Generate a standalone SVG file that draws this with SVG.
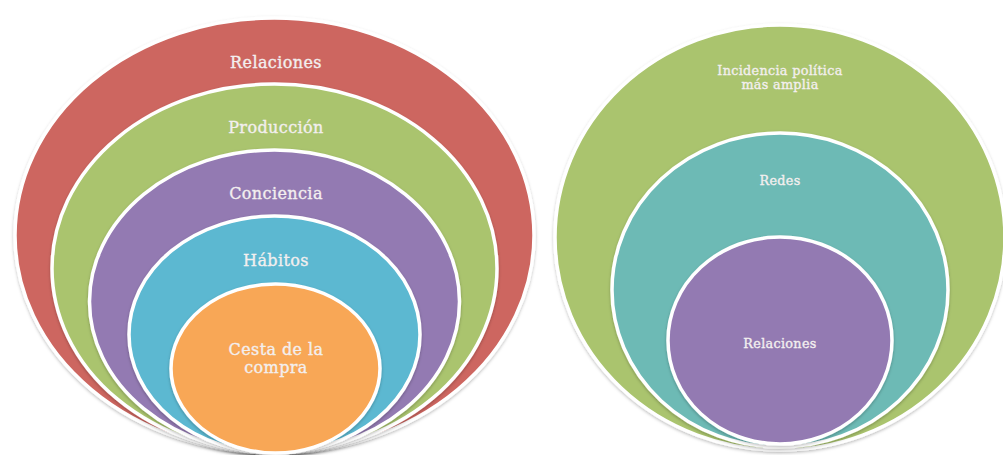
<svg xmlns="http://www.w3.org/2000/svg" width="1003" height="455" viewBox="0 0 1003 455">
<defs>
<filter id="sh" x="-10%" y="-10%" width="120%" height="120%">
<feDropShadow dx="0" dy="1.5" stdDeviation="1.5" flood-color="#000" flood-opacity="0.25"/>
</filter>
<style>
.ring{stroke:#fff;stroke-width:3.5;filter:url(#sh)}
.lbl{font-family:"DejaVu Serif","Liberation Serif",serif;fill:#f3efef;stroke:#f3efef;stroke-width:0.35;text-anchor:middle}
.big{font-size:16px;letter-spacing:0.4px}
.sm{font-size:12.8px;letter-spacing:0.3px}
</style>
</defs>
<rect width="1003" height="455" fill="#fff"/>
<g id="left">
<g id="l-relaciones"><ellipse class="ring" cx="274.5" cy="235.5" rx="259.5" ry="217.5" fill="#CD6660"/><text class="lbl big" x="276" y="68">Relaciones</text></g>
<g id="l-produccion"><ellipse class="ring" cx="274.5" cy="268.5" rx="222.5" ry="184.5" fill="#AAC46E"/><text class="lbl big" x="276" y="133">Producción</text></g>
<g id="l-conciencia"><ellipse class="ring" cx="274.5" cy="301.5" rx="185" ry="151.5" fill="#937AB2"/><text class="lbl big" x="276" y="199">Conciencia</text></g>
<g id="l-habitos"><ellipse class="ring" cx="274.5" cy="334.5" rx="145.5" ry="118.5" fill="#5BB8D1"/><text class="lbl big" x="276" y="266">Hábitos</text></g>
<g id="l-cesta"><ellipse class="ring" cx="275.5" cy="368.5" rx="104.5" ry="84.5" fill="#F8A757"/><text class="lbl big" x="276" y="355">Cesta de la</text><text class="lbl big" x="276" y="373">compra</text></g>
</g>
<g id="right">
<g id="r-incidencia"><ellipse class="ring" cx="780" cy="237.5" rx="225" ry="212.5" fill="#AAC46E"/><text class="lbl sm" x="780" y="75">Incidencia política</text><text class="lbl sm" x="780" y="89">más amplia</text></g>
<g id="r-redes"><ellipse class="ring" cx="780" cy="290" rx="168" ry="157" fill="#6DBAB5"/><text class="lbl sm" x="780" y="185">Redes</text></g>
<g id="r-relaciones"><ellipse class="ring" cx="780" cy="340.5" rx="112" ry="103.5" fill="#937AB2"/><text class="lbl sm" x="780" y="348">Relaciones</text></g>
</g>
<g id="connectors"/>
</svg>
